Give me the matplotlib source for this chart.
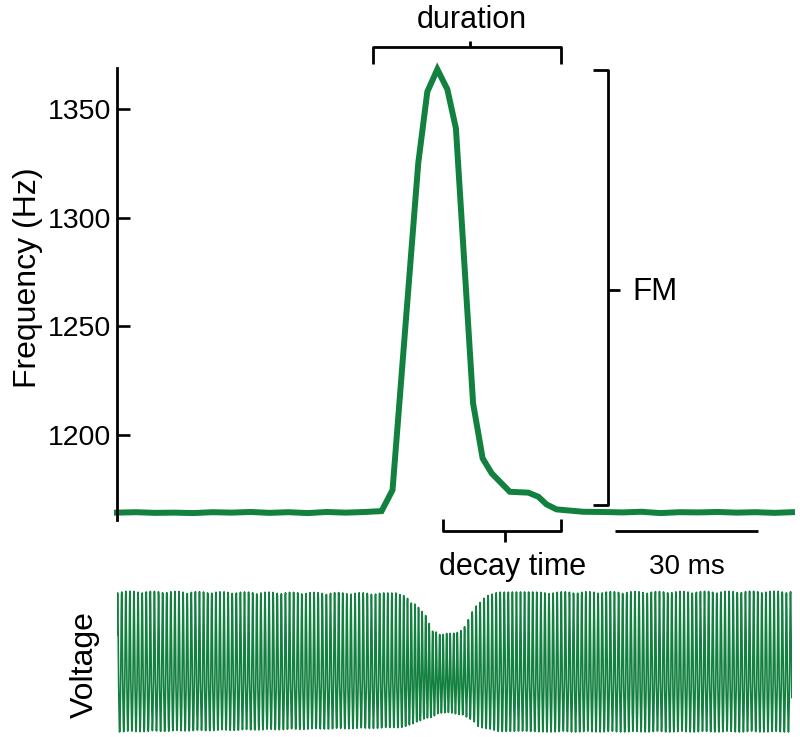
import numpy as np
from matplotlib import pyplot as plt

plt.rcParams['font.family'] = ['Liberation Sans', 'DejaVu Sans']

# frequency trace (ms, Hz)
time_ms = [0, 4, 8, 12, 16, 20, 24, 28, 32, 36, 40, 44, 48, 52, 55.5,
           57.8, 63.2, 65.1, 67.2, 69.3, 71.1, 74.7, 76.7, 78.6, 82.4, 86.3,
           88.4, 90.1, 92.2, 97.8,
           102, 106, 110, 114, 118, 122, 126, 130, 134, 138, 141.6]
freq_hz = [1164.3, 1164.5, 1164.2, 1164.3, 1164.1, 1164.5, 1164.3, 1164.6, 1164.2,
           1164.5, 1164.1, 1164.6, 1164.3, 1164.6, 1165.0,
           1174.7, 1325.2, 1358.0, 1368.3, 1359.1, 1341.1, 1214.6, 1189.3, 1182.4,
           1173.9, 1173.5, 1171.6, 1168.1, 1165.8, 1164.7,
           1164.6, 1164.4, 1164.7, 1164.1, 1164.5, 1164.4, 1164.6, 1164.3, 1164.5,
           1164.2, 1164.5]

# amplitude envelope of the voltage trace (ms, upper lobe, lower lobe)
env_ms = [0, 59.4, 61.5, 63.2, 64.7, 66.2, 67.7, 70.2, 72.3, 73.3, 74.4, 75.9,
          77.5, 80.0, 141.6]
env_up = [94, 92, 85, 78, 70, 55, 51, 52, 55, 61, 73, 83, 89, 93, 94]
env_lo = [47, 43, 40, 37, 34, 32, 28, 28, 30, 32, 35, 42, 44, 47, 47]

ticks = [1200, 1250, 1300, 1350]
green = '#12803f'

fig = plt.figure(figsize=(8, 7.37), dpi=100)
ax = fig.add_axes([0.14625, 0.2944, 0.84375, 0.6133])
ax.plot(time_ms, freq_hz, color=green, lw=4.3, solid_joinstyle='miter', clip_on=False)
ax.set_xlim(0, 141.6)
ax.set_ylim(1160.9, 1368.9)
ax.set_yticks(ticks)
ax.tick_params(axis='y', direction='in', length=9.5, width=1.9, labelsize=20.5, pad=4)
ax.set_xticks([])
for s in ['top', 'right', 'bottom']:
    ax.spines[s].set_visible(False)
ax.spines['left'].set_linewidth(2)

k = dict(color='black', lw=2, clip_on=False, solid_capstyle='butt')
# duration bracket
ax.plot([53.7, 53.7, 93.1, 93.1], [1370.7, 1378.5, 1378.5, 1370.7], **k)
ax.plot([74.05, 74.05], [1378.5, 1381.3], **k)
ax.text(74.5, 1391.0, 'duration', ha='center', va='center', fontsize=22)
# FM bracket
ax.plot([99.9, 103.0, 103.0, 99.9], [1367.9, 1367.9, 1167.8, 1167.8], **k)
ax.plot([103.0, 105.5], [1266.7, 1266.7], **k)
ax.text(108.2, 1265.8, 'FM', ha='left', va='center', fontsize=22.5)
# decay time bracket
ax.plot([68.4, 68.4, 93.1, 93.1], [1161.3, 1155.8, 1155.8, 1161.3], **k)
ax.plot([81.4, 81.4], [1155.8, 1150.8], **k)
ax.text(82.9, 1139.3, 'decay time', ha='center', va='center', fontsize=22)
# scale bar
ax.plot([104.5, 134.5], [1155.8, 1155.8], **k)
ax.text(119.6, 1139.3, '30 ms', ha='center', va='center', fontsize=20)

fig.text(28 / 800, 1 - 278 / 737, 'Frequency (Hz)', rotation=90, ha='center',
         va='center', fontsize=23)

# voltage: oscillation following the frequency trace
dt = 0.05
tv = np.arange(0, 141.6, dt)
f = np.interp(tv, time_ms, freq_hz)
ph = 2 * np.pi * np.cumsum(f * dt / 1000.0) + 0.3
up = np.interp(tv, env_ms, env_up)
lo = np.interp(tv, env_ms, env_lo)
s = np.sin(ph)
v = up * np.clip(s, 0, None) ** 1.3 - lo * np.clip(-s, 0, None) ** 1.3

bx = fig.add_axes([0.14625, 0.0027, 0.84375, 0.2035])
bx.plot(tv, v, color=green, lw=1.2)
bx.set_xlim(0, 141.6)
bx.set_ylim(-50, 100)
bx.axis('off')
fig.text(85 / 800, 1 - 665 / 737, 'Voltage', rotation=90, ha='center',
         va='center', fontsize=23)

plt.savefig('out.png', dpi=100)
